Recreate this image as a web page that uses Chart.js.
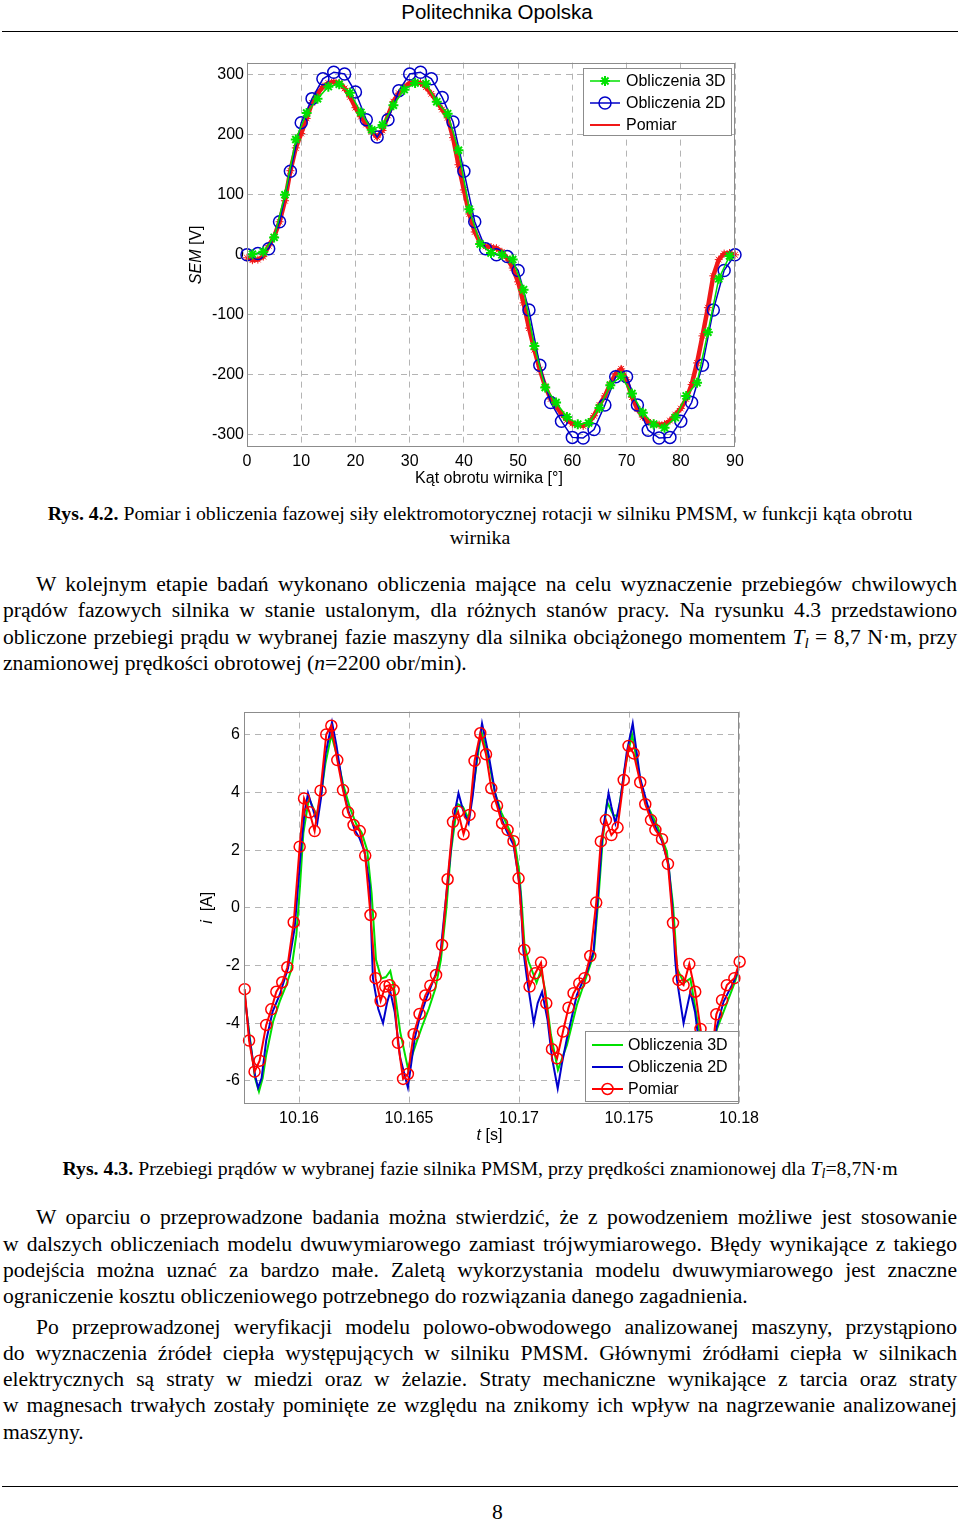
<!DOCTYPE html>
<html lang="pl">
<head>
<meta charset="utf-8">
<title>Rys. 4.2 i Rys. 4.3</title>
<script src="https://cdn.jsdelivr.net/npm/chart.js@4"></script>
<style>
  body { margin:0; width:960px; height:1520px; position:relative; background:#fff; color:#000;
         font-family:"Liberation Serif","Times New Roman",serif; }
  .a { position:absolute; }
  .hdr { left:0; width:994px; top:0; text-align:center; font:20.5px "Liberation Sans",Arial,sans-serif; line-height:24px; }
  .rule { position:absolute; left:2px; width:956px; height:0; border-top:1.5px solid #000; }
  .cap { left:0; width:960px; text-align:center; font-size:19.8px; line-height:24px; }
  .ln { left:3px; width:954px; font-size:21.6px; line-height:26px; height:26px; text-align:justify; text-align-last:justify; }
  .ln.ind { left:36px; width:921px; }
  .ln.end { text-align-last:left; }
  sub { font-size:0.7em; line-height:0; vertical-align:-0.25em; }
  .num { left:492px; top:1499px; font-size:21.6px; line-height:26px; }
</style>
</head>
<body>
<div class="a hdr">Politechnika Opolska</div>
<div class="rule" style="top:31px"></div>

<div class="a" style="left:180px;top:50px;width:580px;height:445px"><canvas id="wykres1" width="580" height="445"></canvas></div>

<div class="a cap" style="top:501px"><b>Rys. 4.2.</b> Pomiar i obliczenia fazowej siły elektromotorycznej rotacji w silniku PMSM, w funkcji kąta obrotu<br>wirnika</div>

<div class="a ln ind" style="top:571px">W kolejnym etapie badań wykonano obliczenia mające na celu wyznaczenie przebiegów chwilowych</div>
<div class="a ln" style="top:597px">prądów fazowych silnika w stanie ustalonym, dla różnych stanów pracy. Na rysunku 4.3 przedstawiono</div>
<div class="a ln" style="top:624px">obliczone przebiegi prądu w wybranej fazie maszyny dla silnika obciążonego momentem <i>T<sub>l</sub></i> = 8,7 N·m, przy</div>
<div class="a ln end" style="top:650px">znamionowej prędkości obrotowej (<i>n</i>=2200 obr/min).</div>

<div class="a" style="left:180px;top:698px;width:600px;height:455px"><canvas id="wykres2" width="600" height="455"></canvas></div>

<div class="a cap" style="top:1156px"><b>Rys. 4.3.</b> Przebiegi prądów w wybranej fazie silnika PMSM, przy prędkości znamionowej dla <i>T<sub>l</sub></i>=8,7N·m</div>

<div class="a ln ind" style="top:1204px">W oparciu o przeprowadzone badania można stwierdzić, że z powodzeniem możliwe jest stosowanie</div>
<div class="a ln" style="top:1231px">w dalszych obliczeniach modelu dwuwymiarowego zamiast trójwymiarowego. Błędy wynikające z takiego</div>
<div class="a ln" style="top:1257px">podejścia można uznać za bardzo małe. Zaletą wykorzystania modelu dwuwymiarowego jest znaczne</div>
<div class="a ln end" style="top:1283px">ograniczenie kosztu obliczeniowego potrzebnego do rozwiązania danego zagadnienia.</div>

<div class="a ln ind" style="top:1314px">Po przeprowadzonej weryfikacji modelu polowo-obwodowego analizowanej maszyny, przystąpiono</div>
<div class="a ln" style="top:1340px">do wyznaczenia źródeł ciepła występujących w silniku PMSM. Głównymi źródłami ciepła w silnikach</div>
<div class="a ln" style="top:1366px">elektrycznych są straty w miedzi oraz w żelazie. Straty mechaniczne wynikające z tarcia oraz straty</div>
<div class="a ln" style="top:1392px">w magnesach trwałych zostały pominięte ze względu na znikomy ich wpływ na nagrzewanie analizowanej</div>
<div class="a ln end" style="top:1419px">maszyny.</div>

<div class="rule" style="top:1486px"></div>
<div class="a num">8</div>

<script>
// --- Rys. 4.2: SEM w funkcji kąta obrotu ---
var kat3D = [1,3,5,7,9,11,13,15,17,19,21,23,25,27,29,31,33,35,37,39,41,43,45,47,49,51,53,55,57,59,61,63,65,67,69,71,73,75,77,79,81,83,85,87,89];
var sem3D = [1,5,29,100,192,236,260,280,284,270,237,208,216,249,275,286,285,255,235,174,76,18,3,0,-8,-58,-152,-221,-246,-270,-282,-280,-255,-217,-202,-231,-263,-282,-288,-271,-235,-213,-129,-40,-2];

var kat2D = [0,2,4,6,8,10,12,14,16,18,20,22,24,26,28,30,32,34,36,38,40,42,44,46,48,50,52,54,56,58,60,62,64,66,68,70,72,74,76,78,80,82,84,86,88,90];
var sem2D = [0,2,10,55,139,220,260,293,304,301,271,225,196,225,273,301,304,293,262,221,139,55,10,0,-3,-26,-92,-184,-246,-277,-304,-305,-291,-250,-203,-203,-250,-292,-305,-304,-277,-246,-184,-92,-26,0];

var katPomiar = [0,1,2,3,4,5,6,7,8,9,10,11,12,13,14,15,16,17,18,19,20,21,22,23,24,25,26,27,28,29,30,31,32,33,34,35,36,37,38,39,40,41,42,43,44,45,46,47,48,49,50,51,52,53,54,55,56,57,58,59,60,61,62,63,64,65,66,67,68,69,70,71,72,73,74,75,76,77,78,79,80,81,82,83,84,85,86,87,88,89,90];
var semPomiar = [-5,-9,-8,-3,15,30,55,90,140,178,202,227,253,268,280,286,288,286,277,263,245,230,217,205,196,207,232,255,269,279,286,288,286,279,268,255,242,228,195,150,108,68,38,20,14,13,11,5,-6,-22,-45,-80,-122,-158,-191,-219,-240,-252,-265,-275,-281,-283,-285,-280,-268,-250,-235,-215,-198,-190,-208,-237,-257,-270,-278,-281,-283,-282,-276,-266,-256,-240,-216,-180,-135,-88,-35,-8,2,3,0];

var katTicks = [0,10,20,30,40,50,60,70,80,90];
var katLabels = ['0','10','20','30','40','50','60','70','80','90'];
var semTicks = [-300,-200,-100,0,100,200,300];
var semLabels = ['-300','-200','-100','0','100','200','300'];

// --- Rys. 4.3: prąd fazowy, czas w ms po 10.16 s ---
var tPomiar = [-2.47,-2.27,-2.02,-1.79,-1.49,-1.26,-1.03,-0.76,-0.53,-0.24,0.03,0.23,0.48,0.71,0.98,1.24,1.47,1.74,2.0,2.23,2.48,2.76,3.01,3.25,3.48,3.71,3.92,4.12,4.3,4.5,4.73,4.95,5.21,5.48,5.74,5.97,6.23,6.5,6.755,7.0,7.23,7.48,7.75,7.98,8.24,8.5,8.74,9.0,9.23,9.48,9.75,9.98,10.24,10.48,10.74,11.0,11.24,11.5,11.73,12.0,12.25,12.48,12.74,12.98,13.24,13.51,13.72,13.95,14.2,14.48,14.76,14.98,15.21,15.51,15.74,16.0,16.2,16.5,16.77,17.0,17.25,17.48,17.74,18.01,18.25,18.5,18.75,18.97,19.23,19.45,19.79,20.03];
var iPomiar = [-2.82,-4.6,-5.68,-5.3,-4.06,-3.52,-2.91,-2.58,-2.06,-0.5,2.12,3.79,3.31,2.66,4.06,6.01,6.31,5.12,4.08,3.31,2.87,2.66,1.81,-0.25,-2.44,-3.23,-2.73,-2.68,-2.85,-4.68,-5.93,-5.76,-4.38,-3.68,-3.04,-2.7,-2.33,-1.29,0.99,2.98,3.33,2.55,3.22,5.09,6.05,5.32,4.14,3.54,2.93,2.7,2.31,1.02,-1.46,-2.73,-2.27,-1.9,-3.31,-4.9,-5.22,-4.29,-3.46,-2.96,-2.62,-2.44,-1.67,0.18,2.3,3.04,2.52,2.78,4.43,5.61,5.35,4.35,3.59,3.04,2.7,2.38,1.52,-0.52,-2.5,-2.68,-1.95,-2.91,-4.2,-5.5,-5.2,-3.69,-3.2,-2.68,-2.44,-1.87];

var t2D = [-2.5,-2.25,-2.0,-1.86,-1.7,-1.49,-1.2,-0.88,-0.5,-0.2,0.1,0.25,0.41,0.6,0.83,1.0,1.2,1.5,1.7,2.0,2.23,2.53,2.76,2.98,3.21,3.36,3.6,3.82,4.0,4.15,4.35,4.6,4.95,5.26,5.48,5.79,6.2,6.42,6.65,6.85,7.05,7.25,7.45,7.71,7.9,8.1,8.32,8.62,8.92,9.2,9.45,9.75,9.95,10.06,10.2,10.37,10.67,10.85,11.05,11.3,11.5,11.76,11.95,12.18,12.63,13.09,13.39,13.59,13.8,14.07,14.2,14.38,14.6,14.9,15.17,15.51,15.97,16.5,16.8,16.96,17.1,17.18,17.48,17.79,18.0,18.2,18.55,18.8,18.97,19.3,19.76,20.03];
var i2D = [-2.8,-4.5,-5.8,-6.24,-5.9,-4.6,-3.6,-3.02,-2.1,-0.71,2.1,3.3,3.97,3.5,2.93,3.8,5.3,6.43,5.64,4.14,3.39,2.7,2.4,1.95,0.79,-2.44,-3.5,-4.0,-3.3,-2.9,-3.6,-5.2,-6.23,-4.52,-3.83,-3.14,-2.33,-1.64,0.1,1.6,3.2,3.97,3.4,2.93,3.9,5.3,6.39,5.3,3.97,3.1,2.64,2.18,1.2,0.56,-1.5,-2.5,-4.0,-3.3,-2.91,-3.9,-5.2,-6.26,-5.4,-4.52,-3.02,-2.21,-1.52,0.44,2.6,3.97,3.5,2.93,3.7,5.4,6.39,4.48,3.21,2.3,1.49,0.1,-1.8,-2.5,-4.0,-2.91,-3.6,-4.8,-6.2,-5.2,-4.18,-3.25,-2.56,-2.04];

var t3D = [-2.5,-2.25,-2.0,-1.82,-1.65,-1.49,-1.18,-0.88,-0.58,-0.35,-0.12,0.05,0.2,0.45,0.8,1.0,1.2,1.47,1.75,2.0,2.3,2.6,2.85,3.1,3.3,3.5,3.74,3.95,4.15,4.35,4.6,4.95,5.35,5.6,5.9,6.2,6.45,6.7,6.9,7.2,7.45,7.7,7.95,8.15,8.3,8.6,8.9,9.2,9.5,9.8,10.0,10.13,10.25,10.44,10.8,11.0,11.2,11.45,11.77,12.18,12.63,13.09,13.4,13.6,13.8,14.0,14.3,14.5,14.8,15.14,15.4,15.67,16.27,16.72,17.0,17.1,17.18,17.5,17.79,18.17,18.55,19.0,19.4,19.8,20.0];
var i3D = [-2.9,-4.4,-5.9,-6.37,-5.9,-5.1,-3.95,-3.25,-2.68,-2.15,-0.94,0.8,2.6,3.79,3.2,3.9,5.0,6.0,5.2,4.3,3.5,2.9,2.6,2.0,0.5,-1.8,-2.45,-2.4,-2.19,-2.9,-4.3,-5.56,-4.64,-4.1,-3.5,-2.8,-1.8,0.0,1.9,3.6,3.5,3.1,4.3,5.4,6.1,5.2,4.0,3.3,2.8,2.3,1.3,0.1,-1.3,-1.87,-2.6,-2.15,-2.9,-4.4,-5.62,-4.75,-3.37,-2.33,-1.6,0.2,2.3,3.67,3.2,3.2,4.8,6.01,4.9,3.79,2.87,1.95,0.1,-1.0,-2.1,-2.6,-2.45,-4.18,-5.6,-4.2,-3.4,-2.6,-2.1];

var tTicks = [0,5,10,15,20];
var tLabels = ['10.16','10.165','10.17','10.175','10.18'];
var iTicks = [-6,-4,-2,0,2,4,6];
var iLabels = ['-6','-4','-2','0','2','4','6'];

Chart.defaults.font.family = '"Liberation Sans", Arial, sans-serif';
Chart.defaults.font.size = 16;
Chart.defaults.color = '#000';

function pary(xs, ys) {
    return xs.map(function (x, i) { return { x: x, y: ys[i] }; });
}

function os(min, max, ticks, labels, fit, pad) {
    return {
        type: 'linear', min: min, max: max,
        afterBuildTicks: function (s) { s.ticks = ticks.map(function (v) { return { value: v }; }); },
        afterFit: fit,
        ticks: { padding: pad, autoSkip: false, maxRotation: 0, callback: function (v, i) { return labels[i]; } },
        grid: { color: '#b4b4b4', lineWidth: 1, drawTicks: false },
        border: { display: false, dash: [6, 5] }
    };
}

function napis(ctx, parts, x, y, rot) {
    ctx.save();
    ctx.translate(x, y);
    ctx.rotate(rot);
    ctx.textBaseline = 'middle';
    ctx.textAlign = 'left';
    var fonty = parts.map(function (p) { return (p.it ? 'italic ' : '') + '16px "Liberation Sans", Arial, sans-serif'; });
    var total = 0;
    var w = parts.map(function (p, i) { ctx.font = fonty[i]; var m = ctx.measureText(p.t).width; total += m; return m; });
    var cx = -total / 2;
    parts.forEach(function (p, i) { ctx.font = fonty[i]; ctx.fillText(p.t, cx, 0); cx += w[i]; });
    ctx.restore();
}

function znacznik(ctx, styl, x, y, r) {
    ctx.beginPath();
    if (styl === 'circle') {
        ctx.arc(x, y, r, 0, Math.PI * 2);
    } else if (styl === 'star') {
        var d = r * Math.SQRT1_2;
        ctx.moveTo(x - r, y); ctx.lineTo(x + r, y);
        ctx.moveTo(x, y - r); ctx.lineTo(x, y + r);
        ctx.moveTo(x - d, y - d); ctx.lineTo(x + d, y + d);
        ctx.moveTo(x - d, y + d); ctx.lineTo(x + d, y - d);
    }
    ctx.stroke();
}

// ramka wokol wykresu, legenda w polu wykresu, opisy osi
var ramka = {
    id: 'ramka',
    afterDatasetsDraw: function (chart, args, o) {
        var ctx = chart.ctx, a = chart.chartArea;
        ctx.save();
        ctx.strokeStyle = '#8c8c8c';
        ctx.lineWidth = 1;
        ctx.strokeRect(Math.round(a.left) + 0.5, Math.round(a.top) + 0.5, Math.round(a.right - a.left) - 1, Math.round(a.bottom - a.top) - 1);

        var L = o.legenda;
        var bx = Math.round(a.right - L.right - L.w);
        var by = Math.round(L.bottom != null ? a.bottom - L.bottom - L.h : a.top + L.top);
        ctx.fillStyle = '#fff';
        ctx.fillRect(bx, by, L.w, L.h);
        ctx.strokeStyle = '#8c8c8c';
        ctx.lineWidth = 1;
        ctx.strokeRect(bx + 0.5, by + 0.5, L.w, L.h);
        chart.data.datasets.forEach(function (ds, i) {
            var y = by + L.first + i * L.step;
            ctx.strokeStyle = ds.borderColor;
            ctx.lineWidth = Math.min(ds.borderWidth, 2);
            ctx.beginPath();
            ctx.moveTo(bx + 7, y); ctx.lineTo(bx + L.line, y);
            ctx.stroke();
            if (ds.legendPt) {
                ctx.lineWidth = ds.pointBorderWidth;
                znacznik(ctx, ds.pointStyle, bx + (7 + L.line) / 2, y, ds.pointRadius);
            }
            ctx.fillStyle = '#000';
            ctx.font = '16px "Liberation Sans", Arial, sans-serif';
            ctx.textBaseline = 'middle';
            ctx.textAlign = 'left';
            ctx.fillText(ds.label, bx + 43, y + 1);
        });
        ctx.restore();
    },
    afterDraw: function (chart, args, o) {
        var ctx = chart.ctx, a = chart.chartArea;
        ctx.save();
        ctx.fillStyle = '#000';
        napis(ctx, o.tytulX, (a.left + a.right) / 2 - 2, a.bottom + 32, 0);
        napis(ctx, o.tytulY, a.left - o.odstepY, (a.top + a.bottom) / 2, -Math.PI / 2);
        ctx.restore();
    }
};

var ctx_sem = document.getElementById('wykres1').getContext('2d');
var wykres_sem = new Chart(ctx_sem, {
    type: 'line',
    data: {
        datasets: [{
            label: 'Obliczenia 3D',
            data: pary(kat3D, sem3D),
            borderColor: '#00e000', backgroundColor: '#00e000',
            borderWidth: 1.5, pointStyle: 'star', pointRadius: 5, pointBorderWidth: 2,
            order: 1, clip: false, legendPt: true
        }, {
            label: 'Obliczenia 2D',
            data: pary(kat2D, sem2D),
            borderColor: '#0000c8', backgroundColor: 'rgba(0,0,0,0)',
            borderWidth: 1.5, pointStyle: 'circle', pointRadius: 6, pointBorderWidth: 1.5,
            order: 2, clip: false, legendPt: true
        }, {
            label: 'Pomiar',
            data: pary(katPomiar, semPomiar),
            borderColor: '#f01818', backgroundColor: '#f01818',
            borderWidth: 4.5, pointStyle: 'star', pointRadius: 4, pointBorderWidth: 1,
            order: 3, clip: false, legendPt: false
        }]
    },
    options: {
        responsive: false, animation: false, events: [],
        layout: { padding: { top: 8, right: 25, left: 0, bottom: 0 } },
        elements: { line: { tension: 0 } },
        scales: {
            x: os(0, 90, katTicks, katLabels, function (s) { s.height = 48; }, 5),
            y: os(-320, 320, semTicks, semLabels, function (s) { s.width = 67; }, 3)
        },
        plugins: {
            legend: { display: false }, tooltip: { enabled: false },
            ramka: {
                legenda: { w: 148, h: 67, right: 4, top: 5, first: 13, step: 22, line: 37 },
                tytulX: [{ t: 'Kąt obrotu wirnika [°]' }],
                tytulY: [{ t: 'SEM', it: true }, { t: ' [V]' }],
                odstepY: 50
            }
        }
    },
    plugins: [ramka]
});

var ctx_prad = document.getElementById('wykres2').getContext('2d');
var wykres_prad = new Chart(ctx_prad, {
    type: 'line',
    data: {
        datasets: [{
            label: 'Obliczenia 3D',
            data: pary(t3D, i3D),
            borderColor: '#00e000', backgroundColor: '#00e000',
            borderWidth: 2, pointRadius: 0, order: 3, legendPt: false
        }, {
            label: 'Obliczenia 2D',
            data: pary(t2D, i2D),
            borderColor: '#0000cc', backgroundColor: '#0000cc',
            borderWidth: 2, pointRadius: 0, order: 2, legendPt: false
        }, {
            label: 'Pomiar',
            data: pary(tPomiar, iPomiar),
            borderColor: '#ff0000', backgroundColor: 'rgba(0,0,0,0)',
            borderWidth: 2, pointStyle: 'circle', pointRadius: 5.5, pointBorderWidth: 1.5,
            order: 1, clip: false, legendPt: true
        }]
    },
    options: {
        responsive: false, animation: false, events: [],
        layout: { padding: { top: 8, right: 41, left: 0, bottom: 0 } },
        elements: { line: { tension: 0 } },
        scales: {
            x: os(-2.5, 20, tTicks, tLabels, function (s) { s.height = 49; }, 5),
            y: os(-6.8, 6.8, iTicks, iLabels, function (s) { s.width = 64; }, 4)
        },
        plugins: {
            legend: { display: false }, tooltip: { enabled: false },
            ramka: {
                legenda: { w: 153, h: 70, right: 1, bottom: 3, first: 14, step: 22, line: 38 },
                tytulX: [{ t: 't', it: true }, { t: ' [s]' }],
                tytulY: [{ t: 'i', it: true }, { t: '  [A]' }],
                odstepY: 36
            }
        }
    },
    plugins: [ramka]
});
</script>
</body>
</html>
